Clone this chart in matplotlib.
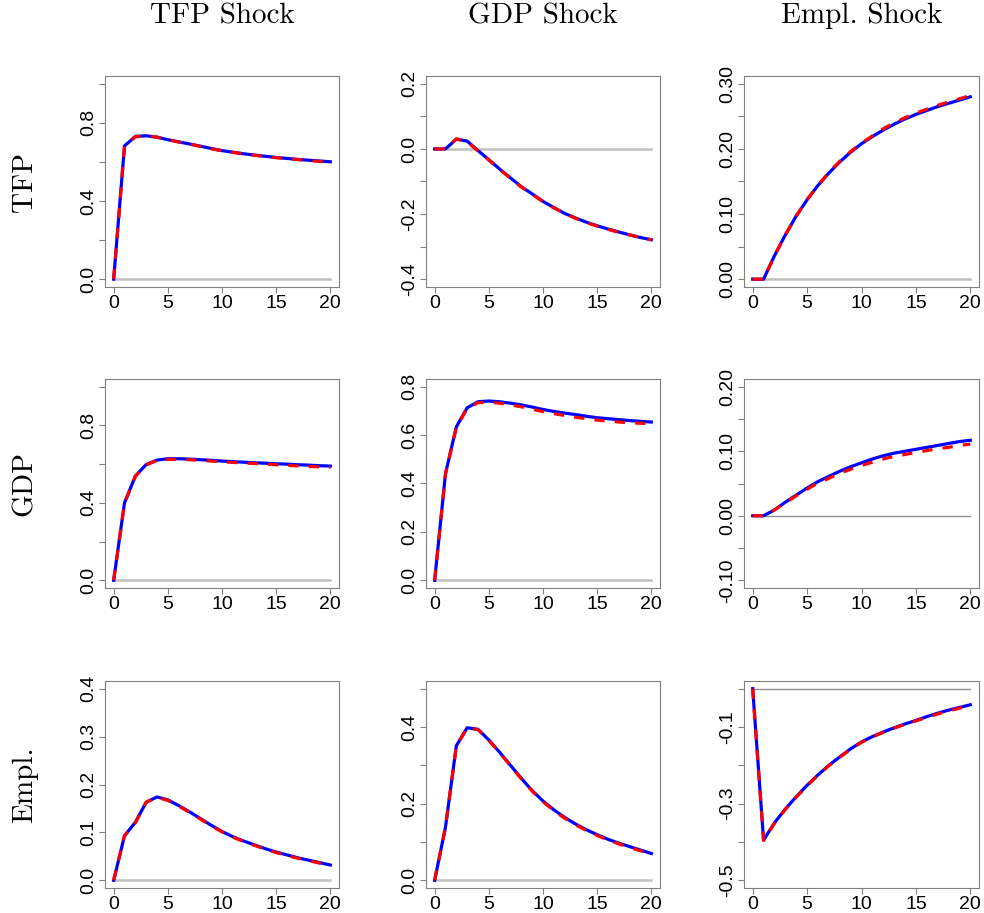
import numpy as np
import matplotlib.pyplot as plt

horizon = list(range(21))

shock_names = ['TFP Shock', 'GDP Shock', 'Empl. Shock']
var_names = ['TFP', 'GDP', 'Empl.']

# responses: blue solid = model A, red dashed = model B
tfp_tfp_blue = [0.0, 0.682, 0.731, 0.734, 0.727, 0.714, 0.703, 0.692, 0.681, 0.669, 0.658,
                0.650, 0.642, 0.635, 0.629, 0.623, 0.618, 0.613, 0.609, 0.605, 0.601]
tfp_tfp_red = [0.0, 0.680, 0.729, 0.733, 0.727, 0.714, 0.702, 0.691, 0.680, 0.668, 0.657,
               0.649, 0.641, 0.634, 0.628, 0.622, 0.617, 0.612, 0.607, 0.603, 0.599]
tfp_gdp_blue = [0.0, 0.0, 0.030, 0.024, -0.005, -0.033, -0.062, -0.089, -0.116, -0.138, -0.161,
                -0.180, -0.198, -0.212, -0.225, -0.236, -0.246, -0.255, -0.264, -0.272, -0.279]
tfp_gdp_red = [0.0, 0.0, 0.031, 0.022, -0.006, -0.034, -0.063, -0.090, -0.117, -0.139, -0.162,
               -0.181, -0.198, -0.213, -0.226, -0.237, -0.247, -0.256, -0.264, -0.272, -0.279]
tfp_empl_blue = [0.0, 0.0, 0.036, 0.068, 0.097, 0.122, 0.144, 0.163, 0.180, 0.195, 0.208,
                 0.219, 0.229, 0.238, 0.246, 0.253, 0.259, 0.265, 0.270, 0.275, 0.280]
tfp_empl_red = [0.0, 0.0, 0.036, 0.068, 0.097, 0.122, 0.144, 0.164, 0.181, 0.196, 0.209,
                0.220, 0.231, 0.240, 0.248, 0.255, 0.261, 0.267, 0.272, 0.277, 0.282]

gdp_tfp_blue = [0.0, 0.400, 0.538, 0.598, 0.621, 0.628, 0.628, 0.626, 0.623, 0.620, 0.616,
                0.613, 0.610, 0.607, 0.605, 0.602, 0.600, 0.597, 0.595, 0.592, 0.590]
gdp_tfp_red = [0.0, 0.398, 0.536, 0.596, 0.619, 0.625, 0.625, 0.623, 0.619, 0.616, 0.612,
               0.609, 0.606, 0.603, 0.600, 0.597, 0.594, 0.591, 0.588, 0.586, 0.583]
gdp_gdp_blue = [0.0, 0.441, 0.634, 0.713, 0.738, 0.741, 0.738, 0.732, 0.725, 0.716, 0.706,
                0.698, 0.691, 0.685, 0.678, 0.672, 0.668, 0.664, 0.660, 0.657, 0.654]
gdp_gdp_red = [0.0, 0.439, 0.632, 0.710, 0.734, 0.736, 0.732, 0.725, 0.717, 0.707, 0.697,
               0.689, 0.681, 0.674, 0.668, 0.662, 0.658, 0.654, 0.651, 0.649, 0.647]
gdp_empl_blue = [0.0, 0.0, 0.009, 0.021, 0.032, 0.043, 0.053, 0.061, 0.069, 0.076, 0.082,
                 0.088, 0.093, 0.097, 0.100, 0.103, 0.106, 0.109, 0.112, 0.115, 0.117]
gdp_empl_red = [0.0, 0.0, 0.009, 0.020, 0.031, 0.041, 0.051, 0.058, 0.066, 0.072, 0.078,
                0.083, 0.088, 0.092, 0.095, 0.098, 0.101, 0.104, 0.106, 0.109, 0.111]

empl_tfp_blue = [0.0, 0.093, 0.121, 0.163, 0.174, 0.168, 0.156, 0.143, 0.129, 0.115, 0.102,
                 0.091, 0.082, 0.074, 0.066, 0.059, 0.053, 0.047, 0.042, 0.037, 0.032]
empl_tfp_red = [0.0, 0.093, 0.120, 0.163, 0.173, 0.167, 0.155, 0.142, 0.128, 0.114, 0.101,
                0.090, 0.081, 0.073, 0.065, 0.058, 0.052, 0.046, 0.041, 0.036, 0.031]
empl_gdp_blue = [0.0, 0.139, 0.351, 0.398, 0.394, 0.366, 0.334, 0.300, 0.266, 0.234, 0.207,
                 0.184, 0.164, 0.147, 0.132, 0.119, 0.107, 0.097, 0.088, 0.079, 0.070]
empl_gdp_red = [0.0, 0.139, 0.350, 0.398, 0.393, 0.365, 0.333, 0.299, 0.265, 0.233, 0.205,
                0.182, 0.162, 0.145, 0.130, 0.117, 0.105, 0.095, 0.086, 0.077, 0.069]
empl_empl_blue = [0.0, -0.395, -0.350, -0.314, -0.282, -0.252, -0.225, -0.200, -0.178, -0.157, -0.139,
                  -0.125, -0.113, -0.102, -0.092, -0.083, -0.073, -0.064, -0.056, -0.049, -0.042]
empl_empl_red = [0.0, -0.396, -0.351, -0.315, -0.283, -0.253, -0.226, -0.201, -0.179, -0.158, -0.140,
                 -0.126, -0.114, -0.103, -0.093, -0.084, -0.075, -0.066, -0.058, -0.051, -0.044]

blue_rows = [[tfp_tfp_blue, tfp_gdp_blue, tfp_empl_blue],
             [gdp_tfp_blue, gdp_gdp_blue, gdp_empl_blue],
             [empl_tfp_blue, empl_gdp_blue, empl_empl_blue]]
red_rows = [[tfp_tfp_red, tfp_gdp_red, tfp_empl_red],
            [gdp_tfp_red, gdp_gdp_red, gdp_empl_red],
            [empl_tfp_red, empl_gdp_red, empl_empl_red]]

# y ranges, tick steps and which ticks get labels
y_ranges = [[(0, 1.0), (-0.4, 0.2), (0, 0.3)],
            [(0, 1.0), (0, 0.8), (-0.1, 0.2)],
            [(0, 0.4), (0, 0.5), (-0.5, 0.0)]]
y_steps = [[0.2, 0.1, 0.05], [0.2, 0.2, 0.05], [0.1, 0.1, 0.1]]
y_labels = [[['0.0', '', '0.4', '', '0.8', ''], ['-0.4', '', '-0.2', '', '0.0', '', '0.2'],
             ['0.00', '', '0.10', '', '0.20', '', '0.30']],
            [['0.0', '', '0.4', '', '0.8', ''], ['0.0', '0.2', '0.4', '0.6', '0.8'],
             ['-0.10', '', '0.00', '', '0.10', '', '0.20']],
            [['0.0', '0.1', '0.2', '0.3', '0.4'], ['0.0', '', '0.2', '', '0.4', ''],
             ['-0.5', '', '-0.3', '', '-0.1', '']]]

W, H = 984, 913
fig = plt.figure(figsize=(W / 100, H / 100), dpi=100)

col_left = [105, 426, 744]
col_width = [234, 234, 235]
row_top = [76, 379, 681]
row_height = [211, 209, 207]

tick_font = 'Liberation Sans'
serif = 'cmr10'
frame_col = '#808080'

for i in range(3):
    for j in range(3):
        ax = fig.add_axes([col_left[j] / W, 1 - (row_top[i] + row_height[i]) / H,
                           col_width[j] / W, row_height[i] / H])
        lo, hi = y_ranges[i][j]
        pad = 0.04 * (hi - lo)
        zero_lw, zero_col = (1.0, '#909090') if (i, j) in [(1, 2), (2, 2)] else (1.8, '#c0c0c0')
        ax.plot([horizon[0], horizon[-1]], [0, 0], color=zero_col, lw=zero_lw, zorder=1)
        ax.plot(horizon, blue_rows[i][j], color='blue', lw=2.3, zorder=2)
        ax.plot(horizon, red_rows[i][j], color='red', lw=2.3, dashes=(3.2, 3.2), zorder=3)
        ax.set_xlim(-0.8, 20.8)
        ax.set_ylim(lo - pad, hi + pad)
        ax.set_xticks([0, 5, 10, 15, 20])
        yt = np.arange(lo, hi + 1e-9, y_steps[i][j])
        ax.set_yticks(yt)
        ax.set_yticklabels(y_labels[i][j], rotation=90, va='center')
        for lab in ax.get_xticklabels() + ax.get_yticklabels():
            lab.set_fontfamily(tick_font)
            lab.set_fontsize(14)
        ax.tick_params(direction='out', length=4, width=0.8, color=frame_col, pad=1.5)
        for s in ax.spines.values():
            s.set_color(frame_col)
            s.set_linewidth(0.8)
        if i == 0:
            ax.set_title(shock_names[j], fontfamily=serif, fontsize=21, pad=38)
        if j == 0:
            fig.text(25 / W, 1 - (row_top[i] + row_height[i] / 2) / H, var_names[i],
                     fontfamily=serif, fontsize=21, rotation=90, ha='center', va='center')

fig.savefig('out.png', dpi=100)
